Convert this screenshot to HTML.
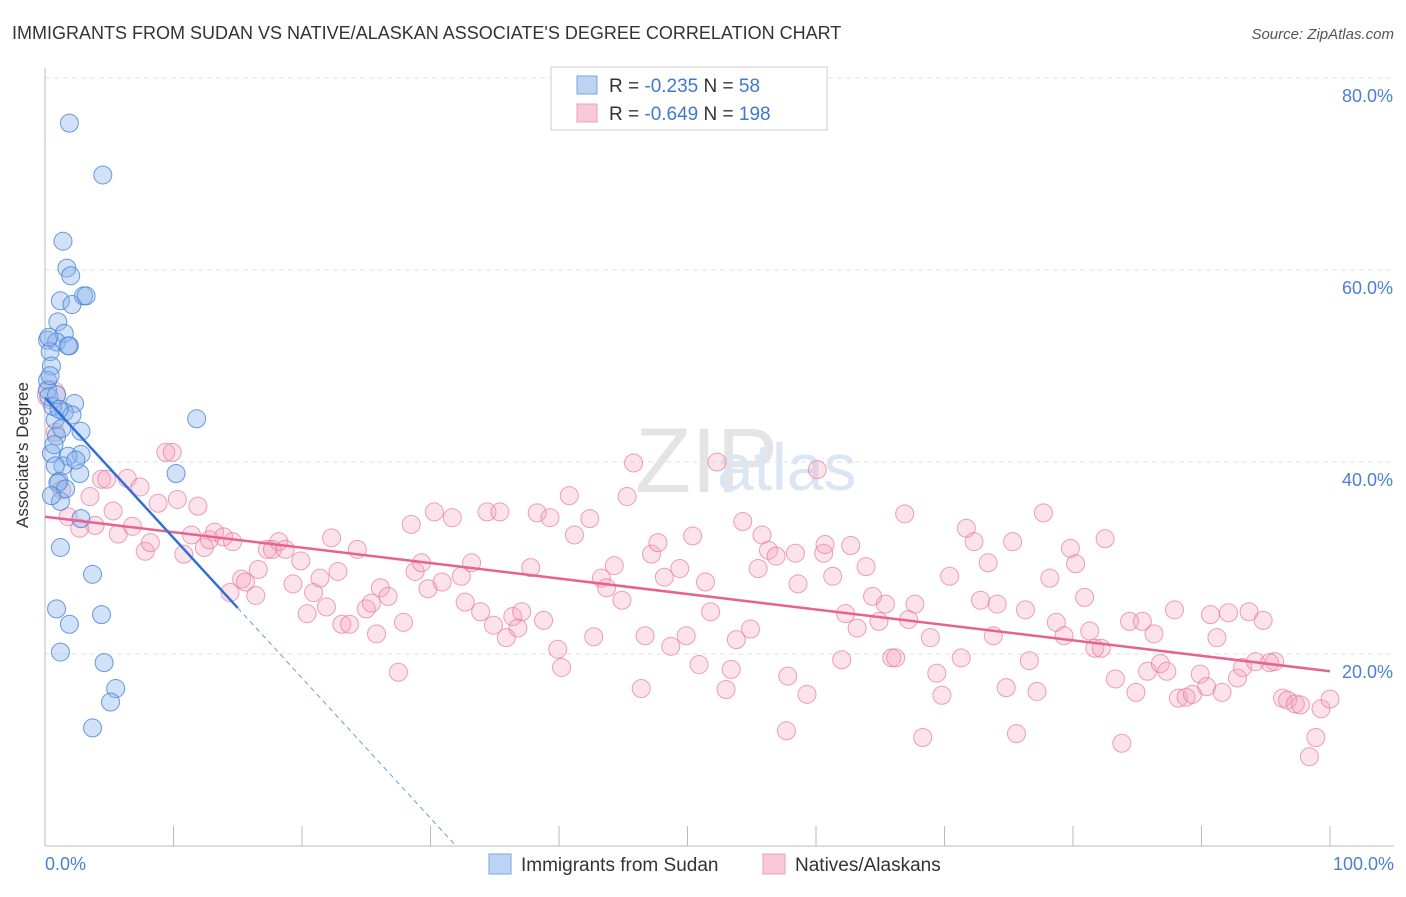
<!DOCTYPE html>
<html><head><meta charset="utf-8"><style>
body{margin:0;background:#fff;font-family:"Liberation Sans",sans-serif;}
svg text{font-family:"Liberation Sans",sans-serif;}
</style></head><body>
<svg id="chart" width="1406" height="892" xmlns="http://www.w3.org/2000/svg">
<text x="12" y="39" font-size="18" fill="#333">IMMIGRANTS FROM SUDAN VS NATIVE/ALASKAN ASSOCIATE'S DEGREE CORRELATION CHART</text>
<text x="1394" y="39" font-size="15" fill="#555" text-anchor="end" font-style="italic">Source: ZipAtlas.com</text>
<g id="grid"></g>
<text x="635" y="492" font-size="92" fill="#e4e4e4" font-family="Liberation Serif">ZIP</text>
<text x="717" y="490" font-size="66" fill="#dbe6f5">atlas</text>
<line x1="45" y1="68" x2="45" y2="846" stroke="#bbb"/>
<line x1="45" y1="846" x2="1394" y2="846" stroke="#bbb"/>
<g id="ticks"></g>
<g id="pink"></g>
<g id="blue"></g>
<g id="trends"></g>
<text x="28" y="455" font-size="17" fill="#333" text-anchor="middle" transform="rotate(-90 28 455)">Associate's Degree</text>
<text x="45" y="870" font-size="18" fill="#4a7fd4">0.0%</text>
<text x="1394" y="870" font-size="18" fill="#4a7fd4" text-anchor="end">100.0%</text>
<g>
<rect x="551" y="67" width="276" height="63" fill="#fff" stroke="#ccc"/>
<rect x="577" y="76" width="20" height="18" fill="#bcd4f4" stroke="#7aa6e0"/>
<rect x="577" y="104" width="20" height="18" fill="#f9c9d8" stroke="#eea0b8"/>
<text x="609" y="92" font-size="19" fill="#333">R = <tspan fill="#3f78d0">-0.235</tspan>   N = <tspan fill="#3f78d0"> 58</tspan></text>
<text x="609" y="120" font-size="19" fill="#333">R = <tspan fill="#3f78d0">-0.649</tspan>   N = <tspan fill="#3f78d0">198</tspan></text>
</g>
<g>
<rect x="489" y="854" width="22" height="20" fill="#bcd4f4" stroke="#7aa6e0"/>
<text x="521" y="871" font-size="19" fill="#333">Immigrants from Sudan</text>
<rect x="763" y="854" width="22" height="20" fill="#f9c9d8" stroke="#eea0b8"/>
<text x="795" y="871" font-size="19" fill="#333">Natives/Alaskans</text>
</g>
</svg>
<script>
const yTicks=[20,40,60,80];
const yTickLabels=["20.0%","40.0%","60.0%","80.0%"];
const xTicks=[0,10,20,30,40,50,60,70,80,90,100];
const blueX=[1.9,4.5,1.4,1.7,2.0,1.2,2.1,3.0,3.2,1.0,1.5,0.2,0.9,1.9,1.8,0.4,0.5,0.2,0.2,2.3,1.5,2.1,0.8,2.8,0.9,0.5,2.8,11.8,1.8,1.4,0.8,2.7,10.2,1.1,1.0,1.2,2.8,1.2,3.7,0.9,1.9,4.4,1.2,4.6,5.5,5.1,3.7,0.3,0.6,1.3,0.4,0.7,1.6,2.4,0.3,0.9,1.1,0.5];
const blueY=[75.3,69.9,63,60.2,59.4,56.8,56.4,57.3,57.3,54.6,53.4,52.7,52.5,52.1,52.1,51.5,50,48.5,47.5,46.1,45.2,44.9,44.4,43.2,42.7,40.9,40.8,44.5,40.6,39.6,39.6,38.8,38.8,38,37.8,35.9,34.1,31.1,28.3,24.7,23.1,24.1,20.2,19.1,16.4,15,12.3,46.8,45.8,43.5,49,41.8,37.2,40.2,53,47,45.5,36.5];
const pinkX=[0.5,0.8,1.3,1.8,2.7,3.5,3.9,4.4,4.8,5.3,5.7,6.4,6.8,7.4,7.8,8.2,8.8,9.4,9.9,10.3,10.8,11.4,11.9,12.4,12.8,13.2,13.9,14.6,14.4,15.3,15.6,16.4,16.6,17.3,17.7,18.2,18.7,19.3,19.9,20.4,20.9,21.4,21.9,22.3,22.8,23.1,23.7,24.3,25,25.4,25.8,26.1,26.7,27.5,27.9,28.5,28.8,29.3,29.8,30.3,30.9,31.7,32.4,32.7,33.2,33.9,34.4,34.9,35.4,35.9,36.4,36.8,37.1,37.8,38.3,38.8,39.3,39.9,40.2,40.8,41.2,42.4,42.7,43.3,43.7,44.3,44.9,45.3,45.8,46.4,46.7,47.2,47.7,48.2,48.7,49.4,49.9,50.4,50.9,51.4,51.8,52.3,53,53.4,53.8,54.3,54.9,55.5,55.8,56.3,56.9,57.7,57.8,58.4,58.6,59.3,60.1,60.6,60.7,61.3,62,62.3,62.7,63.2,63.9,64.4,64.9,65.4,65.9,66.2,66.9,67.2,67.7,68.3,68.9,69.4,69.8,70.4,71.3,71.7,72.3,72.8,73.4,73.8,74.1,74.8,75.3,75.6,76.3,76.6,77.2,77.7,78.2,78.7,79.3,79.8,80.2,80.9,81.3,81.7,82.2,82.5,83.3,83.8,84.4,84.9,85.4,85.8,86.3,86.8,87.3,87.9,88.2,88.8,89.3,89.9,90.4,90.7,91.2,91.6,92.1,92.8,93.2,93.7,94.2,94.8,95.3,95.7,96.3,96.7,97.3,97.7,98.4,98.9,99.3,100];
const pinkY=[47,43.1,37.1,34.3,33.1,36.4,33.4,38.2,38.2,34.9,32.5,38.3,33.3,37.4,30.7,31.6,35.7,41,41,36.1,30.4,32.4,35.4,31.1,31.9,32.7,32.2,31.7,26.4,27.8,27.5,26.1,28.8,30.9,30.9,31.7,30.9,27.3,29.7,24.2,26.4,27.9,24.9,32.1,28.6,23.1,23.1,30.9,24.7,25.3,22.1,26.9,26,18.1,23.3,33.5,28.6,29.5,26.8,34.8,27.5,34.2,28.1,25.4,29.5,24.4,34.8,23,34.8,21.7,23.9,22.7,24.4,29,34.7,23.5,34.2,20.5,18.6,36.5,32.4,34.1,21.8,27.9,26.9,29.2,25.6,36.4,39.9,16.4,21.9,30.4,31.6,28,20.8,28.9,21.9,32.3,18.9,27.5,24.4,40,16.3,18.4,21.5,33.8,22.6,28.9,32.4,30.8,30.2,12,17.7,30.5,27.3,15.8,39.2,30.5,31.4,28.1,19.4,24.2,31.3,22.7,29.1,26,23.4,25.2,19.6,19.6,34.6,23.6,25.2,11.3,21.7,18,15.7,28.1,19.6,33.1,31.7,25.6,29.5,21.9,25.2,16.5,31.7,11.7,24.6,19.3,16.1,34.7,27.9,23.3,21.9,31,29.4,25.9,22.4,20.6,20.6,32,17.4,10.7,23.4,16,23.4,18.2,22.1,19,18.2,24.6,15.4,15.5,15.8,17.9,16.6,24.1,21.7,16,24.3,17.5,18.6,24.4,19.2,23.5,19.1,19.2,15.4,15.2,14.8,14.7,9.3,11.3,14.3,15.3];
const blueTrend=[46.7,-1.46];   // intercept, slope
const blueSolidEnd=15;
const pinkTrend=[34.3,-0.161];
const NS="http://www.w3.org/2000/svg";
const sx=v=>45+v*12.85, sy=v=>846-v*9.6;
function mk(tag,attrs,parent){const e=document.createElementNS(NS,tag);for(const k in attrs)e.setAttribute(k,attrs[k]);parent.appendChild(e);return e;}
const grid=document.getElementById('grid');
yTicks.forEach((t,i)=>{
  const l=mk('line',{x1:45,x2:1394,y1:sy(t),y2:sy(t),stroke:'#e2e2e2','stroke-dasharray':'5,4'},grid);
  
  
  const tx=mk('text',{x:1393,y:sy(t)+24,'font-size':18,fill:'#4a7fd4','text-anchor':'end'},grid);
  tx.textContent=yTickLabels[i];
  
  
});
const ticks=document.getElementById('ticks');
xTicks.forEach(t=>{
  const l=mk('line',{x1:sx(t),x2:sx(t),y1:826,y2:846,stroke:'#bbb'},ticks);
  
  
});
const pink=document.getElementById('pink');
pinkX.forEach((x,i)=>{
  const c=mk('circle',{cx:sx(x),cy:sy(pinkY[i]),r:i===0?14:9,fill:'rgba(244,160,188,0.3)',stroke:'rgba(230,120,160,0.7)','stroke-width':1},pink);
  
  
});
const blue=document.getElementById('blue');
blueX.forEach((x,i)=>{
  const c=mk('circle',{cx:sx(x),cy:sy(blueY[i]),r:9,fill:'rgba(140,180,236,0.4)',stroke:'rgba(70,130,215,0.8)','stroke-width':1},blue);
  
  
});
const tr=document.getElementById('trends');
const bf=x=>blueTrend[0]+blueTrend[1]*x, pf=x=>pinkTrend[0]+pinkTrend[1]*x;
const zeroX=-blueTrend[0]/blueTrend[1];
let l=mk('line',{x1:sx(0),y1:sy(pf(0)),x2:sx(100),y2:sy(pf(100)),stroke:'#e8628e','stroke-width':2.5},tr);


l=mk('line',{x1:sx(blueSolidEnd),y1:sy(bf(blueSolidEnd)),x2:sx(zeroX),y2:sy(0),stroke:'#6a9be0','stroke-width':1,'stroke-dasharray':'5,4'},tr);


l=mk('line',{x1:sx(0),y1:sy(bf(0)),x2:sx(blueSolidEnd),y2:sy(bf(blueSolidEnd)),stroke:'#2f6fd6','stroke-width':2.5},tr);


</script>
</body></html>
